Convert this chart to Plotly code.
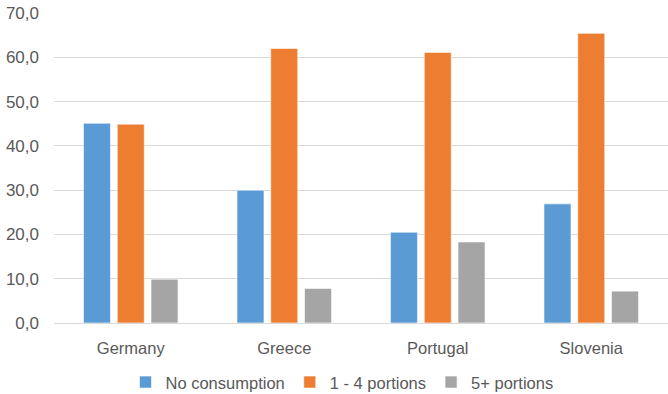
import plotly.graph_objects as go

countries = ["Germany", "Greece", "Portugal", "Slovenia"]
no_consumption = [45.1, 30.0, 20.5, 26.9]
portions_1_4 = [44.9, 62.0, 61.1, 65.4]
portions_5plus = [9.9, 7.8, 18.3, 7.2]
tick_vals = [0, 10, 20, 30, 40, 50, 60, 70]

series = [
    ("No consumption", no_consumption, "#5B9BD5"),
    ("1 - 4 portions", portions_1_4, "#ED7D31"),
    ("5+ portions", portions_5plus, "#A5A5A5"),
]

fig = go.Figure()
for name, vals, color in series:
    fig.add_trace(go.Bar(
        x=countries, y=vals, name=name,
        marker=dict(color=color, line=dict(color="rgba(255,255,255,0.6)", width=1)),
    ))

fig.update_layout(
    width=668, height=394,
    margin=dict(l=54, r=0, t=13, b=71),
    paper_bgcolor="white", plot_bgcolor="white",
    barmode="group", bargap=0.34, bargroupgap=0.2,
    separators=", ",
    font=dict(family="Liberation Sans, Arial, sans-serif", size=16, color="#595959"),
    showlegend=True,
    legend=dict(orientation="h", xref="container", x=0.512, xanchor="center",
                yref="container", y=0.074, yanchor="top",
                font=dict(size=16.5, color="#595959"),
                traceorder="normal"),
    xaxis=dict(showgrid=False, showline=False, ticks="", automargin=False,
               ticklabelstandoff=13,
               tickfont=dict(size=16.5, color="#595959")),
    yaxis=dict(range=[0, 70], tickvals=tick_vals, tickformat=".1f", automargin=False,
               showgrid=True, gridcolor="#D9D9D9", gridwidth=1,
               zeroline=True, zerolinecolor="#D9D9D9", zerolinewidth=1,
               showline=False, ticks="", ticklabelstandoff=14,
               tickfont=dict(size=17, color="#595959")),
)

fig.write_html("out.html", config={"displayModeBar": False},
               post_script="document.body.style.margin='0';document.body.style.overflow='hidden';")
